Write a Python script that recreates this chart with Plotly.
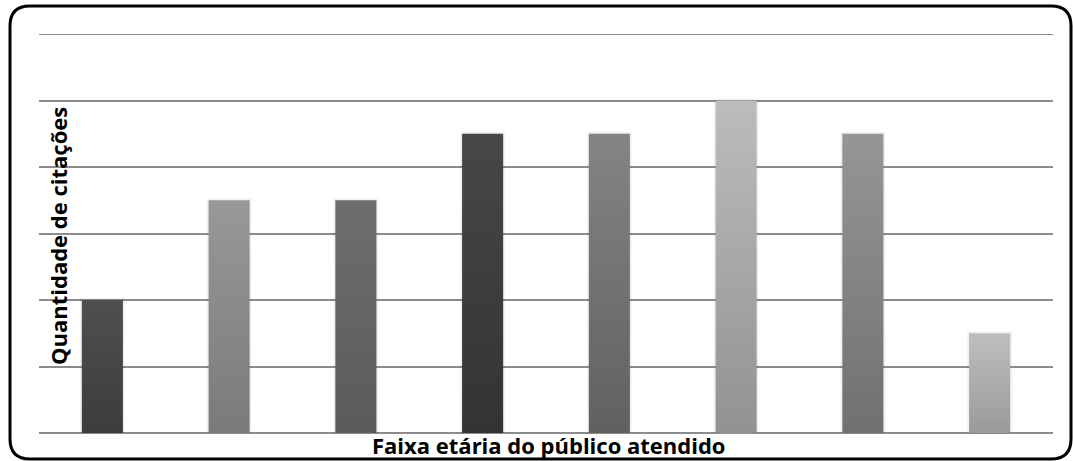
import plotly.graph_objects as go

# Citations per age bracket of the public served
faixas = ["Faixa 1", "Faixa 2", "Faixa 3", "Faixa 4", "Faixa 5", "Faixa 6", "Faixa 7", "Faixa 8"]
citacoes = [4, 7, 7, 9, 9, 10, 9, 3]

# Gradient colours of each bar (bottom, top)
cor_base = ["#3c3c3c", "#7a7a7a", "#5a5a5a", "#333333", "#606060", "#929292", "#707070", "#9a9a9a"]
cor_topo = ["#4f4f4f", "#989898", "#6e6e6e", "#474747", "#848484", "#bcbcbc", "#969696", "#bebebe"]

W, H = 1073, 461
ML, MR, MT, MB = 39, 20, 34, 28
PW, PH = W - ML - MR, H - MT - MB
half = 0.162          # half bar width in category units
sh = 0.014            # shadow spread
Y_MAX, Y_STEP = 12, 2

fig = go.Figure()

for i, (cat, v) in enumerate(zip(faixas, citacoes)):
    # soft shadow behind each bar
    fig.add_trace(go.Scatter(
        x=[i - half - sh, i + half + sh, i + half + sh, i - half - sh, i - half - sh],
        y=[0, 0, v + 0.05, v + 0.05, 0],
        mode="lines", line=dict(width=0), fill="toself",
        fillcolor="rgba(0,0,0,0.06)", hoverinfo="skip", showlegend=False))
    fig.add_trace(go.Scatter(
        x=[i - half, i + half, i + half, i - half, i - half],
        y=[0, 0, v, v, 0],
        mode="lines", line=dict(width=0), fill="toself",
        fillgradient=dict(type="vertical",
                          colorscale=[[0, cor_base[i]], [1, cor_topo[i]]]),
        name=cat, hovertemplate=f"{cat}: {v}<extra></extra>", showlegend=False))

# gridline at the top of the value range (plotly omits the edge one)
fig.add_shape(type="line", xref="paper", yref="y", x0=0, x1=1, y0=Y_MAX, y1=Y_MAX,
              line=dict(color="#8c8c8c", width=2), layer="below")

def px(x):
    return (x - ML) / PW

def py(y):
    return (H - MB - y) / PH

# rounded frame around the chart
x0, x1, y0, y1, r = 10, 1071, 6, 459, 20
path = (f"M {px(x0 + r)},{py(y0)} L {px(x1 - r)},{py(y0)} "
        f"Q {px(x1)},{py(y0)} {px(x1)},{py(y0 + r)} "
        f"L {px(x1)},{py(y1 - r)} Q {px(x1)},{py(y1)} {px(x1 - r)},{py(y1)} "
        f"L {px(x0 + r)},{py(y1)} Q {px(x0)},{py(y1)} {px(x0)},{py(y1 - r)} "
        f"L {px(x0)},{py(y0 + r)} Q {px(x0)},{py(y0)} {px(x0 + r)},{py(y0)} Z")
fig.add_shape(type="path", path=path, xref="paper", yref="paper",
              line=dict(color="black", width=3), layer="above")

fonte = dict(family="Open Sans, Lato, sans-serif", size=22, color="black", weight="bold")

fig.add_annotation(text="Faixa etária do público atendido", xref="paper", yref="paper",
                   x=px(548), y=py(445), xanchor="center", yanchor="middle",
                   showarrow=False, font=fonte)
fig.add_annotation(text="Quantidade de citações", xref="paper", yref="paper",
                   x=px(58), y=py(236), xanchor="center", yanchor="middle",
                   textangle=-90, showarrow=False, font=fonte)

fig.update_layout(
    width=W, height=H,
    margin=dict(l=ML, r=MR, t=MT, b=MB),
    paper_bgcolor="white", plot_bgcolor="white",
    xaxis=dict(range=[-0.5, 7.5], showgrid=False, zeroline=False,
               showticklabels=False, showline=False, fixedrange=True),
    yaxis=dict(range=[0, Y_MAX], dtick=Y_STEP, showgrid=True, gridcolor="#8c8c8c", gridwidth=2,
               zeroline=True, zerolinecolor="#8c8c8c", zerolinewidth=2,
               showticklabels=False, showline=False, fixedrange=True),
)

fig.write_html("out.html")
